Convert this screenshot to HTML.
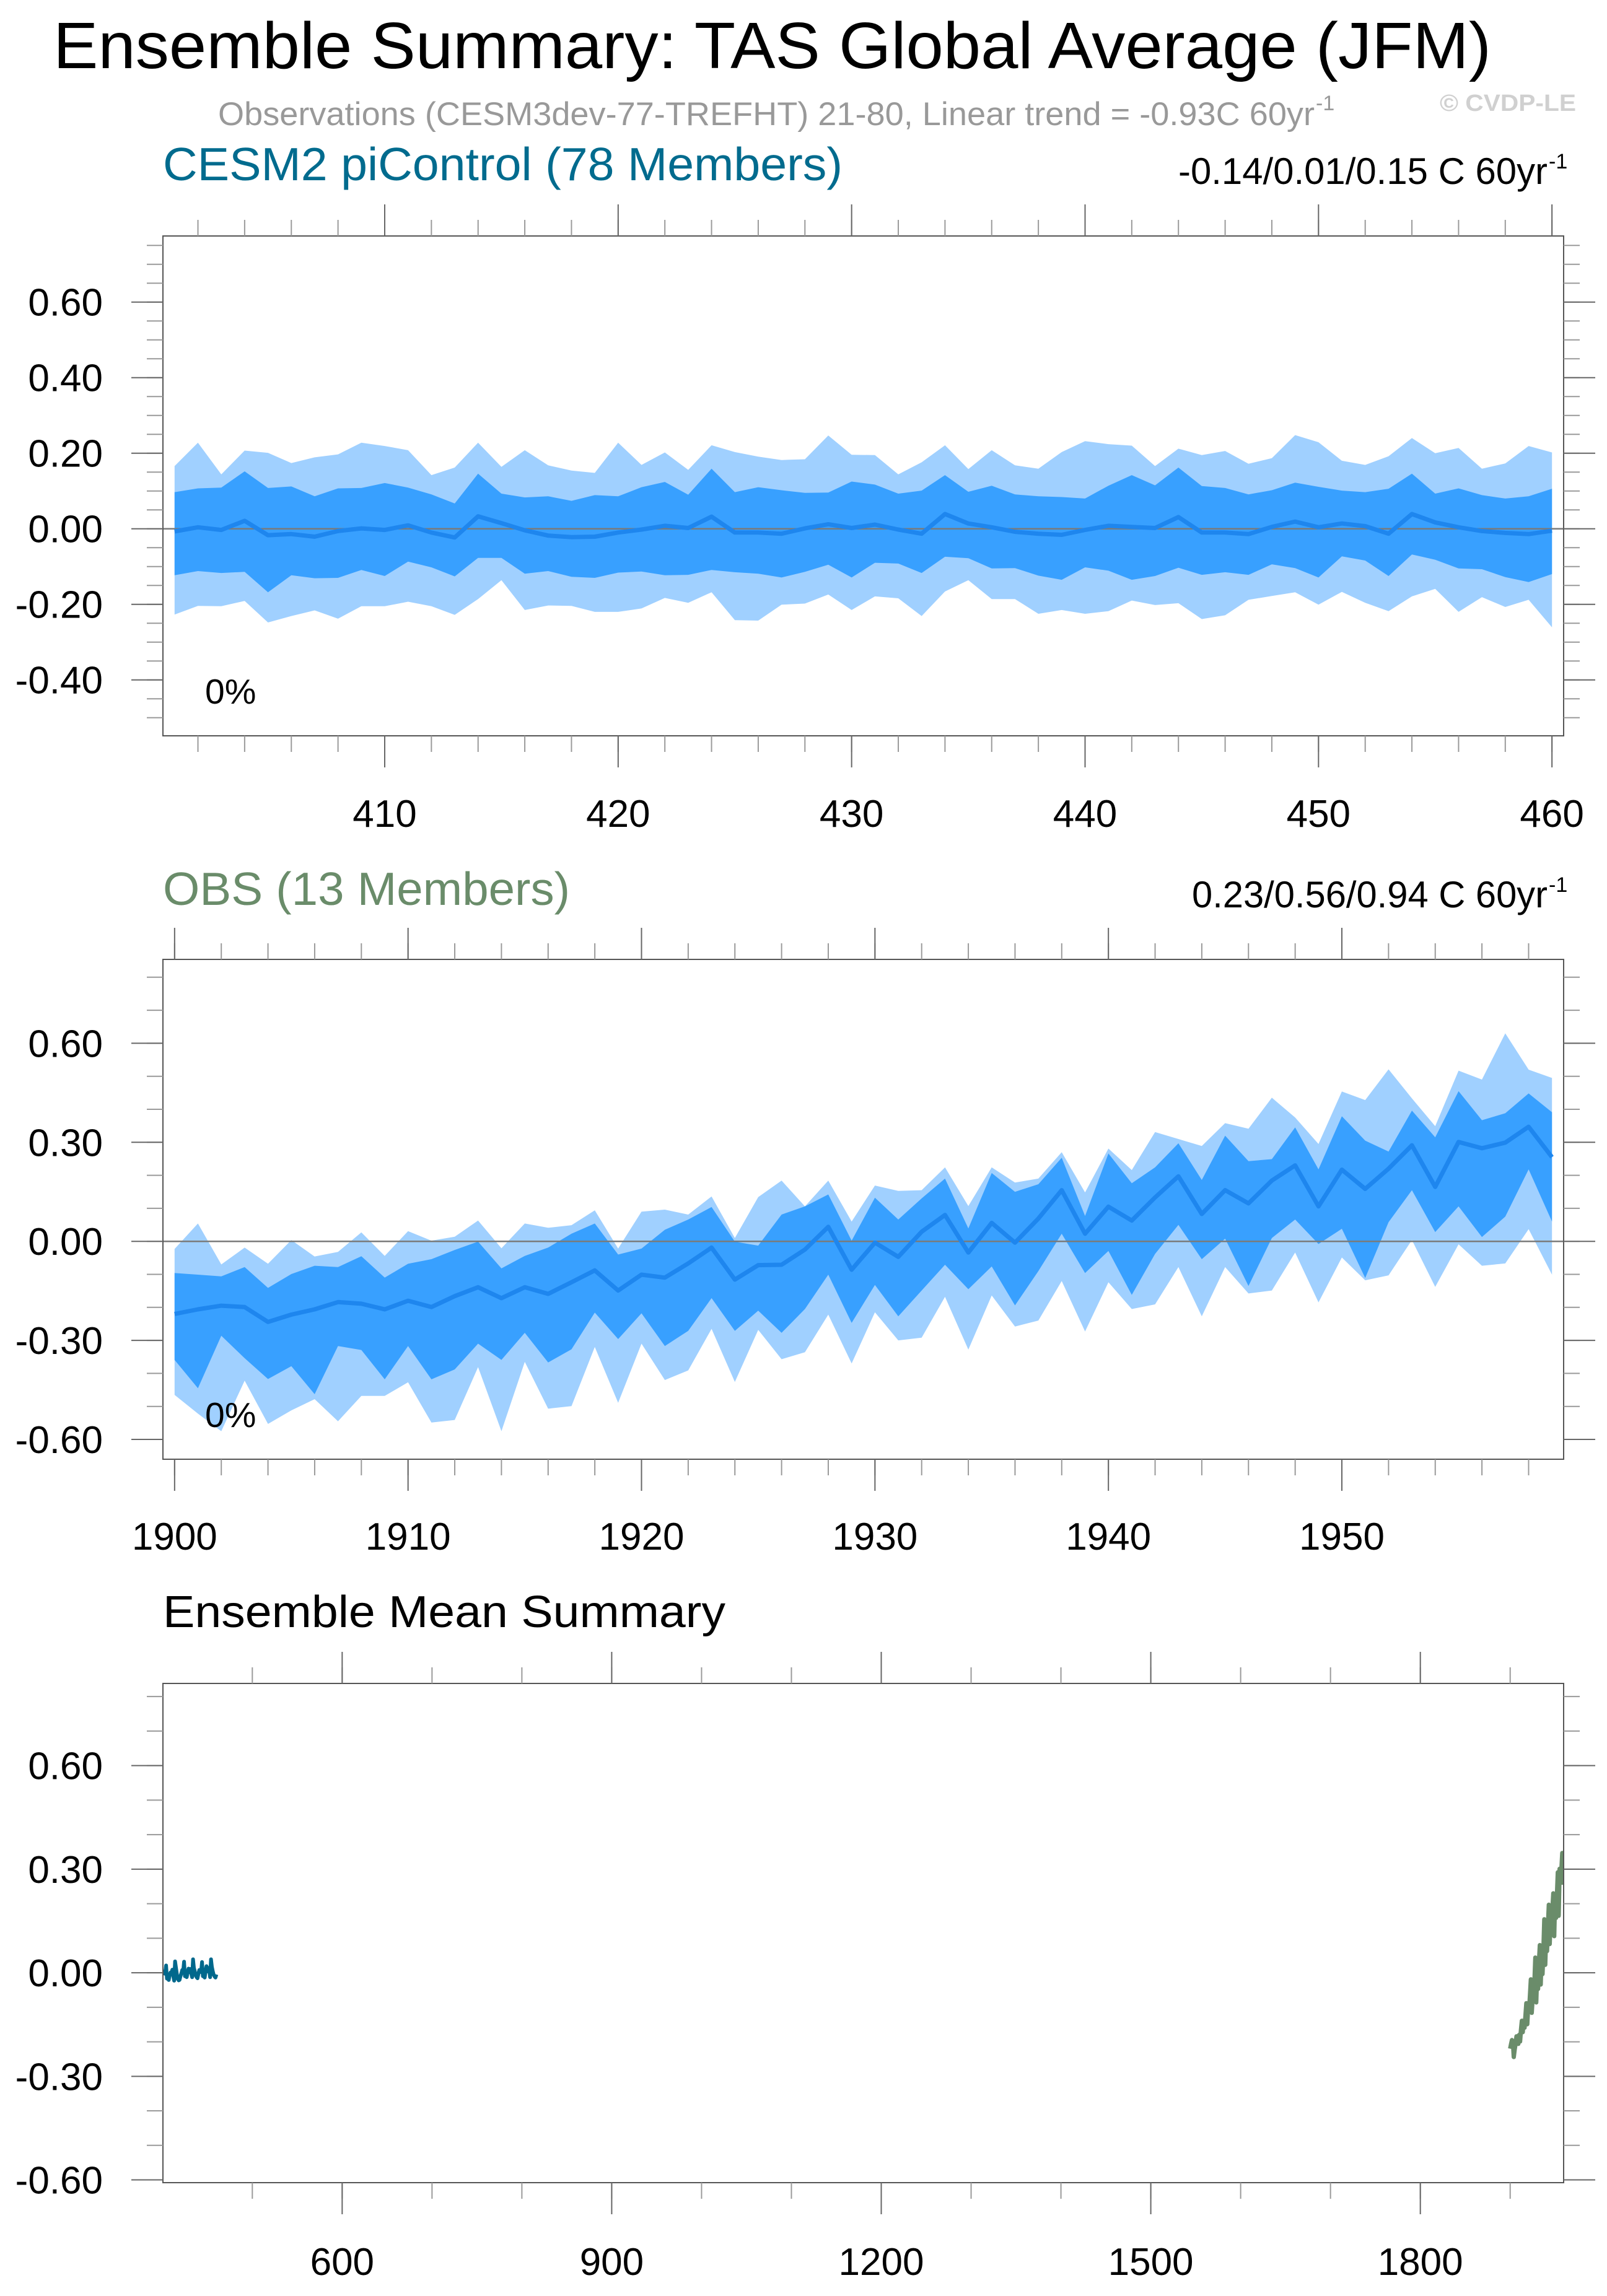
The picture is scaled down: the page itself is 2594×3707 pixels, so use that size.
<!DOCTYPE html>
<html>
<head>
<meta charset="utf-8">
<style>
  html, body { margin: 0; padding: 0; background: #ffffff; }
  svg { display: block; }
  text { font-family: "Liberation Sans", Arial, sans-serif; }
</style>
</head>
<body>
<svg id="chart" xmlns="http://www.w3.org/2000/svg" width="2594" height="3707" viewBox="0 0 2594 3707">
  <rect x="0" y="0" width="2594" height="3707" fill="#ffffff"/>
  <text x="86" y="110" font-size="106" fill="#000" textLength="2321" lengthAdjust="spacingAndGlyphs">Ensemble Summary: TAS Global Average (JFM)</text>
  <text x="352" y="202" font-size="53" fill="#999999" textLength="1770" lengthAdjust="spacingAndGlyphs">Observations (CESM3dev-77-TREFHT) 21-80, Linear trend = -0.93C 60yr</text>
  <text x="2124" y="178" font-size="34" fill="#999999">-1</text>
  <text x="2324" y="179" font-size="38" font-weight="bold" fill="#d0d0d0" textLength="220" lengthAdjust="spacingAndGlyphs">© CVDP-LE</text>

  <text x="263" y="291" font-size="75" fill="#006b8e" textLength="1097" lengthAdjust="spacingAndGlyphs">CESM2 piControl (78 Members)</text>
  <text x="1902" y="297" font-size="60" fill="#000" textLength="596" lengthAdjust="spacingAndGlyphs">-0.14/0.01/0.15 C 60yr</text>
  <text x="2500" y="272" font-size="34" fill="#000">-1</text>

  <text x="263" y="1461" font-size="75" fill="#6a8c6a" textLength="657" lengthAdjust="spacingAndGlyphs">OBS (13 Members)</text>
  <text x="1924" y="1465" font-size="60" fill="#000" textLength="574" lengthAdjust="spacingAndGlyphs">0.23/0.56/0.94 C 60yr</text>
  <text x="2500" y="1440" font-size="34" fill="#000">-1</text>

  <text x="263" y="2627" font-size="72" fill="#000" textLength="908" lengthAdjust="spacingAndGlyphs">Ensemble Mean Summary</text>

  <g id="panels"></g>
</svg>
<script>
// ---- Data: CESM2 piControl (years 401-460) ----
const piStartYear = 401;
const piOuterMax = [0.166,0.228,0.144,0.207,0.201,0.174,0.189,0.197,0.228,0.219,0.208,0.142,0.162,0.228,0.164,0.208,0.168,0.154,0.148,0.228,0.169,0.202,0.156,0.221,0.203,0.191,0.182,0.184,0.247,0.196,
  0.195,0.144,0.176,0.221,0.158,0.208,0.168,0.159,0.203,0.232,0.224,0.220,0.166,0.212,0.195,0.206,0.172,0.187,0.248,0.229,0.180,0.169,0.192,0.240,0.200,0.214,0.159,0.173,0.219,0.202];
const piInnerHigh = [0.097,0.107,0.109,0.152,0.108,0.112,0.086,0.107,0.108,0.121,0.109,0.091,0.067,0.146,0.093,0.083,0.086,0.074,0.089,0.086,0.110,0.124,0.090,0.159,0.097,0.110,0.102,0.095,0.096,0.125,
  0.117,0.093,0.101,0.142,0.098,0.114,0.091,0.086,0.084,0.080,0.114,0.142,0.115,0.162,0.113,0.108,0.091,0.102,0.122,0.111,0.101,0.097,0.106,0.146,0.093,0.107,0.089,0.080,0.086,0.106];
const piMean = [-0.007,0.004,-0.003,0.021,-0.017,-0.014,-0.021,-0.006,0.001,-0.003,0.009,-0.010,-0.023,0.033,0.015,-0.004,-0.018,-0.022,-0.021,-0.010,-0.002,0.008,0.002,0.032,-0.010,-0.010,-0.013,0.001,0.012,0.002,
  0.011,-0.002,-0.013,0.039,0.014,0.004,-0.008,-0.013,-0.016,-0.003,0.008,0.005,0.002,0.031,-0.010,-0.010,-0.014,0.005,0.019,0.004,0.014,0.007,-0.013,0.039,0.017,0.004,-0.006,-0.011,-0.014,-0.005];
const piInnerLow = [-0.123,-0.112,-0.117,-0.114,-0.168,-0.123,-0.131,-0.130,-0.109,-0.125,-0.087,-0.102,-0.126,-0.077,-0.077,-0.119,-0.112,-0.127,-0.130,-0.116,-0.113,-0.123,-0.122,-0.109,-0.115,-0.119,-0.129,-0.114,-0.095,-0.129,
  -0.090,-0.092,-0.117,-0.074,-0.078,-0.105,-0.104,-0.124,-0.135,-0.102,-0.111,-0.135,-0.125,-0.103,-0.122,-0.115,-0.122,-0.094,-0.104,-0.129,-0.073,-0.084,-0.125,-0.068,-0.082,-0.105,-0.107,-0.128,-0.141,-0.120];
const piOuterMin = [-0.227,-0.204,-0.205,-0.191,-0.248,-0.231,-0.216,-0.238,-0.205,-0.205,-0.193,-0.205,-0.228,-0.186,-0.136,-0.215,-0.203,-0.204,-0.220,-0.220,-0.211,-0.183,-0.196,-0.168,-0.242,-0.243,-0.201,-0.198,-0.174,-0.215,
  -0.179,-0.184,-0.231,-0.166,-0.136,-0.186,-0.186,-0.225,-0.215,-0.225,-0.218,-0.190,-0.202,-0.197,-0.239,-0.229,-0.188,-0.178,-0.168,-0.201,-0.167,-0.196,-0.218,-0.179,-0.159,-0.220,-0.181,-0.207,-0.188,-0.261];

// ---- Data: OBS (years 1900-1959) ----
const obsStartYear = 1900;
const obsOuterMax = [-0.023,0.054,-0.070,-0.019,-0.068,0.004,-0.046,-0.032,0.027,-0.044,0.031,0.002,0.014,0.063,-0.021,0.054,0.041,0.049,0.094,-0.022,0.090,0.096,0.081,0.136,0.010,0.134,0.184,0.106,0.184,0.060,
  0.169,0.153,0.155,0.224,0.107,0.224,0.178,0.190,0.270,0.148,0.281,0.216,0.331,0.310,0.289,0.358,0.341,0.435,0.375,0.295,0.454,0.428,0.521,0.433,0.349,0.517,0.490,0.630,0.520,0.495];
const obsInnerHigh = [-0.096,-0.101,-0.106,-0.078,-0.141,-0.099,-0.074,-0.078,-0.045,-0.110,-0.068,-0.054,-0.026,-0.001,-0.082,-0.044,-0.019,0.023,0.054,-0.040,-0.022,0.035,0.066,0.104,-0.001,-0.013,0.081,0.106,0.142,0.002,
  0.132,0.066,0.130,0.190,0.039,0.207,0.150,0.173,0.253,0.077,0.266,0.176,0.224,0.297,0.186,0.320,0.243,0.249,0.345,0.218,0.379,0.305,0.272,0.396,0.315,0.455,0.367,0.388,0.448,0.391];
const obsMean = [-0.220,-0.206,-0.195,-0.199,-0.244,-0.222,-0.206,-0.184,-0.189,-0.206,-0.180,-0.199,-0.166,-0.139,-0.172,-0.139,-0.159,-0.124,-0.088,-0.149,-0.101,-0.110,-0.067,-0.019,-0.116,-0.072,-0.071,-0.025,0.044,-0.086,
  -0.004,-0.047,0.029,0.080,-0.034,0.056,-0.004,0.069,0.155,0.023,0.105,0.063,0.133,0.197,0.083,0.155,0.115,0.184,0.230,0.106,0.217,0.159,0.220,0.291,0.165,0.301,0.282,0.299,0.347,0.255];
const obsInnerLow = [-0.359,-0.445,-0.286,-0.354,-0.417,-0.378,-0.463,-0.317,-0.329,-0.418,-0.317,-0.418,-0.388,-0.310,-0.359,-0.277,-0.367,-0.327,-0.216,-0.296,-0.218,-0.317,-0.271,-0.172,-0.271,-0.210,-0.277,-0.205,-0.101,-0.247,
  -0.132,-0.227,-0.149,-0.071,-0.145,-0.076,-0.194,-0.090,0.023,-0.096,-0.029,-0.162,-0.038,0.050,-0.054,0.008,-0.135,0.010,0.066,-0.008,0.038,-0.111,0.058,0.155,0.028,0.106,0.013,0.075,0.218,0.060];
const obsOuterMin = [-0.465,-0.522,-0.575,-0.422,-0.553,-0.512,-0.478,-0.545,-0.468,-0.468,-0.427,-0.549,-0.541,-0.381,-0.575,-0.365,-0.507,-0.499,-0.320,-0.489,-0.310,-0.420,-0.391,-0.265,-0.426,-0.268,-0.357,-0.336,-0.222,-0.370,
  -0.215,-0.300,-0.292,-0.168,-0.328,-0.164,-0.258,-0.240,-0.120,-0.273,-0.124,-0.205,-0.191,-0.078,-0.227,-0.078,-0.158,-0.149,-0.034,-0.185,-0.049,-0.118,-0.103,0.004,-0.138,-0.009,-0.074,-0.067,0.037,-0.101];

// ---- Tick values ----
const topYMajor = [-0.4, -0.2, 0.0, 0.2, 0.4, 0.6];
const topXMajor = [410, 420, 430, 440, 450, 460];
const midYMajor = [-0.6, -0.3, 0.0, 0.3, 0.6];
const midXMajor = [1900, 1910, 1920, 1930, 1940, 1950];
const botYMajor = [-0.6, -0.3, 0.0, 0.3, 0.6];
const botXMajor = [600, 900, 1200, 1500, 1800];

const NS = "http://www.w3.org/2000/svg";
const root = document.getElementById("panels");

function el(tag, attrs, parent) {
  const e = document.createElementNS(NS, tag);
  for (const k in attrs) e.setAttribute(k, attrs[k]);
  (parent || root).appendChild(e);
  return e;
}

function makeScales(p) {
  p.sx = v => p.x0 + (v - p.xmin) / (p.xmax - p.xmin) * (p.x1 - p.x0);
  p.sy = v => p.y1 - (v - p.ymin) / (p.ymax - p.ymin) * (p.y1 - p.y0);
  return p;
}

function drawFrame(p, prefix) {
  const g = el("g", {});
  
  
  const MAJ = 51, MIN = 26;
  for (let k = Math.ceil(p.ymin / p.yMinorStep - 1e-6); k * p.yMinorStep <= p.ymax + 1e-9; k++) {
    const v = k * p.yMinorStep;
    const y = p.sy(v);
    const t1 = el("line", {x1: p.x0 - MIN, x2: p.x0, y1: y, y2: y, stroke: "#9a9a9a", "stroke-width": 2}, g);
    
    
    const t2 = el("line", {x1: p.x1, x2: p.x1 + MIN, y1: y, y2: y, stroke: "#9a9a9a", "stroke-width": 2}, g);
    
    
  }
  p.yMajor.forEach(v => {
    const y = p.sy(v);
    const t1 = el("line", {x1: p.x0 - MAJ, x2: p.x0, y1: y, y2: y, stroke: "#666", "stroke-width": 2}, g);
    
    
    const t2 = el("line", {x1: p.x1, x2: p.x1 + MAJ, y1: y, y2: y, stroke: "#666", "stroke-width": 2}, g);
    
    
    const lb = el("text", {x: 166, y: y + 22, "font-size": 62, "text-anchor": "end", fill: "#000"}, g);
    lb.textContent = v.toFixed(2);
    
    
  });
  for (let v = p.xMinorStart; v <= p.xmax; v += p.xMinorStep) {
    const x = p.sx(v);
    const t1 = el("line", {x1: x, x2: x, y1: p.y1, y2: p.y1 + MIN, stroke: "#9a9a9a", "stroke-width": 2}, g);
    
    
    const t2 = el("line", {x1: x, x2: x, y1: p.y0 - MIN, y2: p.y0, stroke: "#9a9a9a", "stroke-width": 2}, g);
    
    
  }
  p.xMajor.forEach(v => {
    const x = p.sx(v);
    const t1 = el("line", {x1: x, x2: x, y1: p.y1, y2: p.y1 + MAJ, stroke: "#666", "stroke-width": 2}, g);
    
    
    const t2 = el("line", {x1: x, x2: x, y1: p.y0 - MAJ, y2: p.y0, stroke: "#666", "stroke-width": 2}, g);
    
    
    const lb = el("text", {x: x, y: p.xLabelY, "font-size": 62, "text-anchor": "middle", fill: "#000"}, g);
    lb.textContent = String(v);
    
    
  });
  return g;
}

function bandPath(p, start, hi, lo) {
  let d = "";
  hi.forEach((v, i) => { d += (i ? "L" : "M") + p.sx(start + i).toFixed(1) + "," + p.sy(v).toFixed(1); });
  for (let i = lo.length - 1; i >= 0; i--) d += "L" + p.sx(start + i).toFixed(1) + "," + p.sy(lo[i]).toFixed(1);
  return d + "Z";
}
function linePath(p, start, vals) {
  let d = "";
  vals.forEach((v, i) => { d += (i ? "L" : "M") + p.sx(start + i).toFixed(1) + "," + p.sy(v).toFixed(1); });
  return d;
}

function drawEnsemblePanel(p, prefix, start, omax, ihigh, mean, ilow, omin) {
  const cid = prefix + "-clip";
  const cp = el("clipPath", {id: cid});
  el("rect", {x: p.x0, y: p.y0, width: p.x1 - p.x0, height: p.y1 - p.y0}, cp);
  const g = el("g", {"clip-path": "url(#" + cid + ")"});
  
  
  const outer = el("path", {d: bandPath(p, start, omax, omin), fill: "#a0d0ff"}, g);
  
  
  const inner = el("path", {d: bandPath(p, start, ihigh, ilow), fill: "#38a0ff"}, g);
  
  
  const zl = el("line", {x1: p.x0, x2: p.x1, y1: p.sy(0), y2: p.sy(0), stroke: "#7a7a7a", "stroke-width": 2.5}, g);
  
  
  const ml = el("path", {d: linePath(p, start, mean), fill: "none", stroke: "#1e86ee", "stroke-width": 7, "stroke-linejoin": "round"}, g);
  
  
  const box = el("rect", {x: p.x0, y: p.y0, width: p.x1 - p.x0, height: p.y1 - p.y0, fill: "none", stroke: "#555", "stroke-width": 2});
  
  
  drawFrame(p, prefix);
  const pct = el("text", {x: 331, y: p.pctY, "font-size": 57, fill: "#000"});
  pct.textContent = "0%";
  
  
}

const topP = makeScales({x0: 263, x1: 2524, y0: 381, y1: 1188, xmin: 400.5, xmax: 460.5, ymin: -0.548, ymax: 0.775,
  yMajor: topYMajor, yMinorStep: 0.05, xMajor: topXMajor, xMinorStart: 402, xMinorStep: 2, xLabelY: 1335, pctY: 1136});
drawEnsemblePanel(topP, "picontrol", piStartYear, piOuterMax, piInnerHigh, piMean, piInnerLow, piOuterMin);

const midP = makeScales({x0: 263, x1: 2524, y0: 1549, y1: 2356, xmin: 1899.5, xmax: 1959.5, ymin: -0.660, ymax: 0.854,
  yMajor: midYMajor, yMinorStep: 0.1, xMajor: midXMajor, xMinorStart: 1900, xMinorStep: 2, xLabelY: 2502, pctY: 2304});
drawEnsemblePanel(midP, "obs", obsStartYear, obsOuterMax, obsInnerHigh, obsMean, obsInnerLow, obsOuterMin);

const botP = makeScales({x0: 263, x1: 2524, y0: 2718, y1: 3524, xmin: 400.5, xmax: 1959.5, ymin: -0.608, ymax: 0.838,
  yMajor: botYMajor, yMinorStep: 0.1, xMajor: botXMajor, xMinorStart: 500, xMinorStep: 100, xLabelY: 3673});
(function () {
  const cp = el("clipPath", {id: "summary-clip"});
  el("rect", {x: botP.x0, y: botP.y0, width: botP.x1 - botP.x0, height: botP.y1 - botP.y0}, cp);
  const g = el("g", {"clip-path": "url(#summary-clip)"});
  
  
  const l1 = el("path", {d: linePath(botP, piStartYear, piMean), fill: "none", stroke: "#00688c", "stroke-width": 6, "stroke-linejoin": "round"}, g);
  
  
  const l2 = el("path", {d: linePath(botP, obsStartYear, obsMean), fill: "none", stroke: "#6a8c6a", "stroke-width": 7, "stroke-linejoin": "round"}, g);
  
  
  const box = el("rect", {x: botP.x0, y: botP.y0, width: botP.x1 - botP.x0, height: botP.y1 - botP.y0, fill: "none", stroke: "#555", "stroke-width": 2});
  
  
  drawFrame(botP, "summary");
})();
</script>
</body>
</html>
